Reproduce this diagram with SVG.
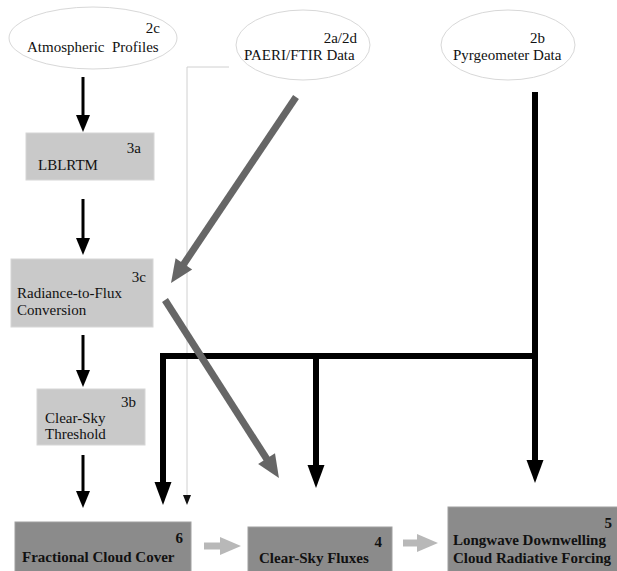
<svg xmlns="http://www.w3.org/2000/svg" width="617" height="571" viewBox="0 0 617 571">
<style>
text{font-family:'Liberation Serif','DejaVu Serif',serif;font-size:15px;fill:#111;white-space:pre}
.b{font-weight:bold}
.e{text-anchor:end}
.ell{fill:#fff;stroke:#d8d8d8;stroke-width:1}
.lt{fill:#c9c9c9;stroke:#d6d6d6;stroke-width:1}
.dk{fill:#8b8b8b;stroke:#a0a0a0;stroke-width:1}
.k{fill:none;stroke:#000;stroke-width:3}
.kk{fill:none;stroke:#000;stroke-width:6}
.g{fill:none;stroke:#666;stroke-width:7}
.lg{fill:none;stroke:#b8b8b8;stroke-width:7}
.thin{fill:none;stroke:#d0d0d0;stroke-width:1}
</style>
<defs>
<marker id="mk" markerUnits="userSpaceOnUse" orient="auto" refX="0" refY="0" markerWidth="20" markerHeight="20" style="overflow:visible"><path d="M-1,-7 L16,0 L-1,7 z" fill="#000"/></marker>
<marker id="mkk" markerUnits="userSpaceOnUse" orient="auto" refX="0" refY="0" markerWidth="30" markerHeight="30" style="overflow:visible"><path d="M-1,-8.5 L22,0 L-1,8.5 z" fill="#000"/></marker>
<marker id="mg" markerUnits="userSpaceOnUse" orient="auto" refX="0" refY="0" markerWidth="30" markerHeight="30" style="overflow:visible"><path d="M-1,-10 L22,0 L-1,10 z" fill="#666"/></marker>
<marker id="mlg" markerUnits="userSpaceOnUse" orient="auto" refX="0" refY="0" markerWidth="30" markerHeight="30" style="overflow:visible"><path d="M-1,-9 L20,0 L-1,9 z" fill="#b8b8b8"/></marker>
<marker id="mt" markerUnits="userSpaceOnUse" orient="auto" refX="0" refY="0" markerWidth="20" markerHeight="20" style="overflow:visible"><path d="M0,-4 L10,0 L0,4 z" fill="#111"/></marker>
</defs>

<g id="connectors">
<path class="thin" d="M229,67 H187 V495" marker-end="url(#mt)"/>
<path class="k" d="M83,77 V116" marker-end="url(#mk)"/>
<path class="k" d="M83,199 V239" marker-end="url(#mk)"/>
<path class="k" d="M83,335 V371" marker-end="url(#mk)"/>
<path class="k" d="M83,455 V492" marker-end="url(#mk)"/>
<path class="kk" d="M535,92 V461" marker-end="url(#mkk)"/>
<path class="kk" d="M535,356 H163 V483" marker-end="url(#mkk)"/>
<path class="kk" d="M316,356 V466" marker-end="url(#mkk)"/>
<path class="g" d="M296,97 L183.3,264.7" marker-end="url(#mg)"/>
<path class="g" d="M165,300 L267.1,459.5" marker-end="url(#mg)"/>
<path class="lg" d="M204,546 H221" marker-end="url(#mlg)"/>
<path class="lg" d="M403,543 H418" marker-end="url(#mlg)"/>
</g>

<g id="atmospheric-profiles">
<ellipse class="ell" cx="93" cy="38" rx="84" ry="31"/>
<text class="e" x="160" y="33">2c</text>
<text x="27" y="52">Atmospheric  Profiles</text>
</g>
<g id="paeri-ftir">
<ellipse class="ell" cx="303" cy="45" rx="67" ry="35"/>
<text class="e" x="357" y="43">2a/2d</text>
<text x="244" y="60">PAERI/FTIR Data</text>
</g>
<g id="pyrgeometer">
<ellipse class="ell" cx="508" cy="45" rx="67" ry="35"/>
<text x="530" y="43">2b</text>
<text x="453" y="60">Pyrgeometer Data</text>
</g>
<g id="lblrtm">
<rect class="lt" x="26" y="133" width="128" height="47"/>
<text class="e" x="141" y="153">3a</text>
<text x="38" y="170">LBLRTM</text>
</g>
<g id="radiance-to-flux">
<rect class="lt" x="11" y="259" width="142" height="68"/>
<text class="e" x="146" y="282">3c</text>
<text x="17" y="298">Radiance-to-Flux</text>
<text x="17" y="315">Conversion</text>
</g>
<g id="clear-sky-threshold">
<rect class="lt" x="37" y="389" width="108" height="56"/>
<text class="e" x="136" y="407">3b</text>
<text x="45" y="423">Clear-Sky</text>
<text x="45" y="439">Threshold</text>
</g>
<g id="fractional-cloud-cover">
<rect class="dk" x="15" y="522" width="176" height="52"/>
<text class="b e" x="183" y="543">6</text>
<text class="b" x="22" y="562">Fractional Cloud Cover</text>
</g>
<g id="clear-sky-fluxes">
<rect class="dk" x="248" y="527" width="144" height="47"/>
<text class="b e" x="382" y="547">4</text>
<text class="b" x="259" y="563">Clear-Sky Fluxes</text>
</g>
<g id="longwave-forcing">
<rect class="dk" x="448" y="507" width="172" height="67"/>
<text class="b e" x="612" y="528">5</text>
<text class="b" x="453" y="545">Longwave Downwelling</text>
<text class="b" x="453" y="563">Cloud Radiative Forcing</text>
</g>
</svg>
